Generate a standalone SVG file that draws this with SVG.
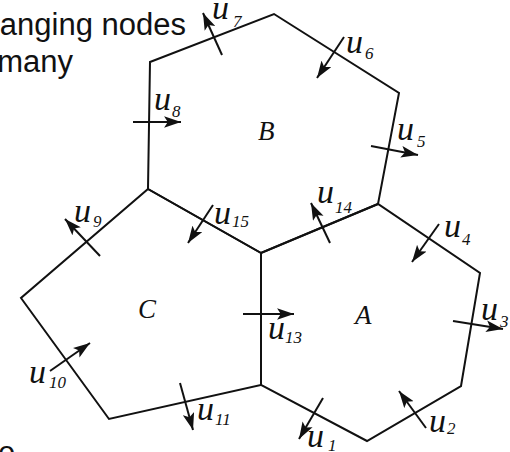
<svg xmlns="http://www.w3.org/2000/svg" width="510" height="452" viewBox="0 0 510 452">
<style>
.cell{fill:none;stroke:#111;stroke-width:2;stroke-linejoin:miter}
.arr{stroke:#111;stroke-width:2;fill:none;marker-end:url(#ah)}
.lab{font-family:"Liberation Serif","Times New Roman",serif;font-style:italic;font-size:34px;fill:#111}
.sub{font-size:17px}
.name{font-family:"Liberation Serif","Times New Roman",serif;font-style:italic;font-size:27px;fill:#111}
.txt{font-family:"Liberation Sans",Arial,sans-serif;font-size:31px;fill:#111}
</style>
<defs>
<marker id="ah" markerUnits="userSpaceOnUse" markerWidth="18" markerHeight="12" refX="16" refY="5.5" orient="auto" viewBox="0 0 17 11">
<path d="M0,0 L16,5.5 L0,11 L3.5,5.5 z" fill="#111"/>
</marker>
</defs>
<g id="caption">
<text class="txt" x="186" y="35" text-anchor="end">anging nodes</text>
<text class="txt" x="73" y="72" text-anchor="end">many</text>
<text class="txt" x="-2" y="463">e</text>
</g>
<g id="B">
<polygon class="cell" points="150,62 274,14 399,93 378,204 261,253 148,189"/>
<text class="name" x="258" y="140">B</text>
</g>
<g id="C">
<polygon class="cell" points="148,189 261,253 261,385 109,419 21,298"/>
<text class="name" x="138" y="318">C</text>
</g>
<g id="A">
<polygon class="cell" points="261,253 378,204 480,273 461,386 367,441 261,385"/>
<text class="name" x="355" y="324">A</text>
</g>
<g id="connectors">
<line class="arr" x1="222" y1="55" x2="203" y2="13"/>
<line class="arr" x1="133" y1="122" x2="181" y2="122"/>
<line class="arr" x1="344" y1="37" x2="317" y2="78"/>
<line class="arr" x1="371" y1="146" x2="418" y2="155"/>
<line class="arr" x1="330" y1="243" x2="311" y2="203"/>
<line class="arr" x1="439" y1="224" x2="412" y2="262"/>
<line class="arr" x1="453" y1="321" x2="503" y2="329"/>
<line class="arr" x1="426" y1="428" x2="399" y2="391"/>
<line class="arr" x1="323" y1="398" x2="299" y2="439"/>
<line class="arr" x1="243" y1="314" x2="294" y2="314"/>
<line class="arr" x1="213" y1="205" x2="188" y2="243"/>
<line class="arr" x1="100" y1="256" x2="65" y2="219"/>
<line class="arr" x1="50" y1="371" x2="90" y2="343"/>
<line class="arr" x1="180" y1="383" x2="193" y2="430"/>
</g>
<g id="labels">
<text class="lab" x="212" y="19">u<tspan class="sub" x="233" y="27">7</tspan></text>
<text class="lab" x="154" y="110">u<tspan class="sub" x="172" y="117">8</tspan></text>
<text class="lab" x="346" y="53">u<tspan class="sub" x="365" y="59">6</tspan></text>
<text class="lab" x="397" y="140">u<tspan class="sub" x="417" y="147">5</tspan></text>
<text class="lab" x="317" y="203">u<tspan class="sub" x="335" y="213">14</tspan></text>
<text class="lab" x="444" y="237">u<tspan class="sub" x="462" y="245">4</tspan></text>
<text class="lab" x="481" y="320">u<tspan class="sub" x="500" y="327">3</tspan></text>
<text class="lab" x="429" y="432">u<tspan class="sub" x="447" y="434">2</tspan></text>
<text class="lab" x="307" y="447">u<tspan class="sub" x="328" y="451">1</tspan></text>
<text class="lab" x="268" y="339">u<tspan class="sub" x="285" y="343">13</tspan></text>
<text class="lab" x="214" y="224">u<tspan class="sub" x="232" y="227">15</tspan></text>
<text class="lab" x="74" y="222">u<tspan class="sub" x="93" y="227">9</tspan></text>
<text class="lab" x="29" y="383">u<tspan class="sub" x="49" y="388">10</tspan></text>
<text class="lab" x="197" y="420">u<tspan class="sub" x="215" y="425">11</tspan></text>
</g>
</svg>
